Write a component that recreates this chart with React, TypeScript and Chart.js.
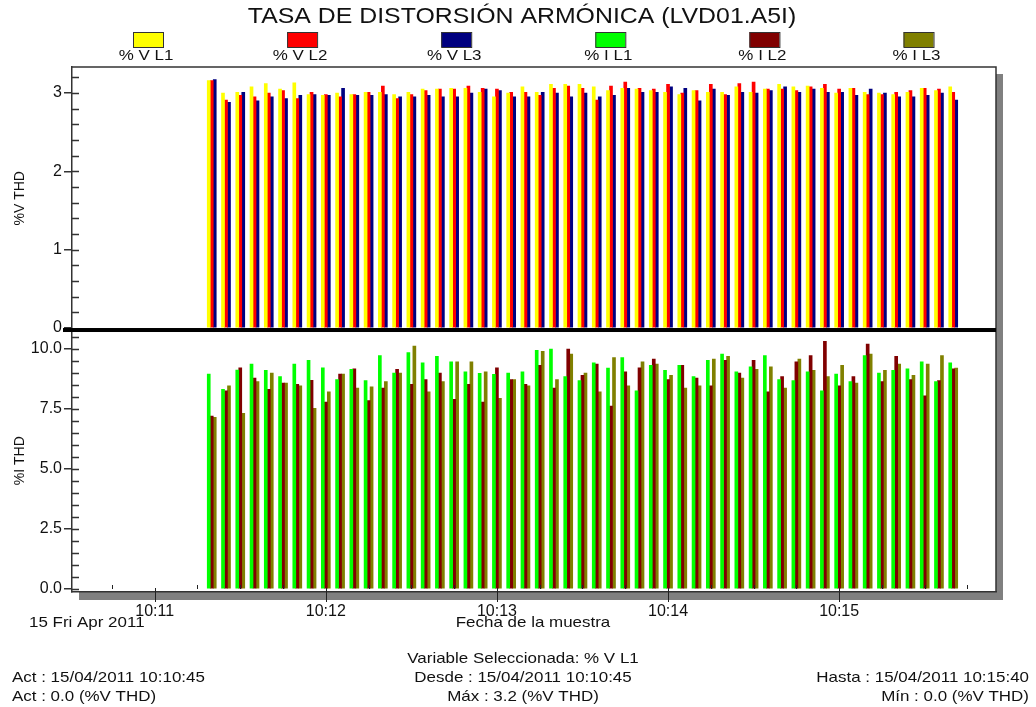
import React, { useEffect, useRef } from 'react';
import { Chart, registerables } from 'chart.js';

Chart.register(...registerables);

const TITLE = 'TASA DE DISTORSIÓN ARMÓNICA (LVD01.A5I)';
const X_AXIS_TITLE = 'Fecha de la muestra';
const DATE_LABEL = '15 Fri Apr 2011';
const V_AXIS_TITLE = '%V THD';
const I_AXIS_TITLE = '%I THD';
const X_RANGE = ['10:10:31', '10:15:55'];
const V_RANGE = [-0.019, 3.332];
const I_RANGE = [-0.125, 10.8125];
const FOOTER_CENTER = ['Variable Seleccionada: % V L1', 'Desde : 15/04/2011 10:10:45', 'Máx : 3.2 (%V THD)'];
const FOOTER_LEFT = ['Act : 15/04/2011 10:10:45', 'Act : 0.0 (%V THD)'];
const FOOTER_RIGHT = ['Hasta : 15/04/2011 10:15:40', 'Mín : 0.0 (%V THD)'];

const SAMPLE_TIMES = [
  '10:11:20', '10:11:25', '10:11:30', '10:11:35', '10:11:40', '10:11:45', '10:11:50', '10:11:55',
  '10:12:00', '10:12:05', '10:12:10', '10:12:15', '10:12:20', '10:12:25', '10:12:30', '10:12:35', '10:12:40', '10:12:45', '10:12:50', '10:12:55',
  '10:13:00', '10:13:05', '10:13:10', '10:13:15', '10:13:20', '10:13:25', '10:13:30', '10:13:35', '10:13:40', '10:13:45', '10:13:50', '10:13:55',
  '10:14:00', '10:14:05', '10:14:10', '10:14:15', '10:14:20', '10:14:25', '10:14:30', '10:14:35', '10:14:40', '10:14:45', '10:14:50', '10:14:55',
  '10:15:00', '10:15:05', '10:15:10', '10:15:15', '10:15:20', '10:15:25', '10:15:30', '10:15:35', '10:15:40',
];

const V_L1 = [3.16, 3.00, 3.01, 3.08, 3.12, 3.05, 3.13, 2.98, 2.97, 3.00, 2.98, 3.01, 3.01, 2.98, 3.01, 3.05, 3.05, 3.06, 3.06, 3.01, 2.95, 3.00, 3.08, 3.01, 3.11, 3.11, 3.11, 3.08, 3.03, 3.06, 3.05, 3.03, 3.01, 2.98, 3.03, 3.01, 3.01, 3.08, 3.01, 3.05, 3.11, 3.08, 3.09, 3.06, 3.00, 3.06, 3.01, 3.00, 2.98, 3.01, 3.06, 3.03, 3.08];
const V_L2 = [3.16, 2.91, 2.97, 2.95, 3.00, 3.03, 2.93, 3.01, 2.98, 2.95, 2.98, 3.01, 3.09, 2.93, 2.98, 3.03, 3.05, 3.05, 3.09, 3.06, 3.05, 3.01, 3.01, 2.97, 3.06, 3.09, 3.06, 2.91, 3.09, 3.14, 3.06, 3.05, 3.11, 3.00, 3.03, 3.11, 2.98, 3.12, 3.14, 3.05, 3.05, 3.03, 3.08, 3.11, 3.05, 3.06, 2.98, 2.98, 3.01, 3.03, 3.06, 3.05, 3.01];
const V_L3 = [3.17, 2.88, 3.01, 2.90, 2.95, 2.93, 2.97, 2.98, 2.97, 3.06, 2.97, 2.97, 2.98, 2.95, 2.95, 2.97, 2.95, 2.95, 3.00, 3.05, 3.03, 2.95, 2.95, 3.01, 3.00, 2.95, 3.00, 2.95, 2.97, 3.06, 3.01, 3.01, 3.08, 3.06, 2.90, 3.05, 2.97, 3.01, 3.00, 3.03, 3.08, 3.01, 3.05, 3.01, 3.01, 2.97, 3.05, 3.00, 2.95, 2.95, 2.97, 3.00, 2.91];
const I_L1 = [8.96, 8.32, 9.12, 9.37, 9.11, 8.85, 9.37, 9.53, 9.22, 8.73, 9.15, 8.68, 9.73, 9.00, 9.85, 9.42, 9.69, 9.47, 9.05, 8.99, 8.94, 9.00, 9.05, 9.94, 10.0, 8.85, 8.68, 9.42, 9.21, 9.64, 8.26, 9.32, 9.11, 9.32, 8.85, 9.53, 9.79, 9.05, 9.26, 9.73, 8.73, 8.68, 9.05, 8.26, 8.96, 8.64, 9.73, 9.00, 9.11, 9.17, 9.47, 8.64, 9.42];
const I_L2 = [7.21, 8.26, 9.22, 8.79, 8.32, 8.58, 8.53, 8.69, 7.79, 8.96, 9.17, 7.85, 8.37, 9.15, 8.53, 8.73, 9.00, 7.90, 8.53, 7.79, 9.22, 8.73, 8.53, 9.32, 8.37, 10.0, 8.90, 9.37, 7.62, 9.05, 9.22, 9.58, 8.73, 9.32, 8.79, 8.47, 9.53, 9.00, 9.53, 8.22, 8.85, 9.47, 9.73, 10.32, 8.47, 8.85, 10.21, 8.64, 9.69, 8.73, 8.05, 8.68, 9.17];
const I_L3 = [7.15, 8.47, 7.32, 8.64, 9.00, 8.58, 8.47, 7.53, 8.22, 8.96, 8.37, 8.42, 8.64, 9.00, 10.12, 8.22, 8.64, 9.47, 9.47, 9.05, 7.94, 8.73, 8.47, 9.90, 8.73, 9.79, 9.00, 8.22, 9.64, 8.47, 9.47, 9.37, 8.90, 8.37, 8.47, 9.58, 9.69, 8.79, 9.15, 9.26, 8.37, 9.58, 9.11, 8.85, 9.32, 8.58, 9.79, 9.11, 9.37, 8.90, 9.37, 9.73, 9.21];

const SERIES_LABELS = ['% V L1', '% V L2', '% V L3', '% I L1', '% I L2', '% I L3'];
const SERIES_COLORS = ['#FFFF00', '#FF0000', '#000080', '#00FF00', '#800000', '#808000'];
const V_TICK_LABELS = ['0', '1', '2', '3'];
const I_TICK_LABELS = ['0.0', '2.5', '5.0', '7.5', '10.0'];

const FONT = '"Liberation Sans", Arial, Helvetica, sans-serif';
const TEXT = '#111';
const SX = 1.13;

const toSec = (s: string) => {
  const [h, m, sec] = s.split(':').map(Number);
  return (h - 10) * 3600 + m * 60 + sec;
};
const fmtMin = (v: number) => {
  const h = 10 + Math.floor(v / 3600);
  const m = Math.floor((v % 3600) / 60);
  return `${h}:${String(m).padStart(2, '0')}`;
};

function txt(ctx: CanvasRenderingContext2D, s: string, x: number, y: number, size: number, align: CanvasTextAlign = 'center', rot = 0) {
  ctx.save();
  ctx.font = `${size}px ${FONT}`;
  ctx.fillStyle = TEXT;
  ctx.textBaseline = 'middle';
  ctx.textAlign = align;
  ctx.translate(x, y);
  if (rot) ctx.rotate(rot);
  if (!rot) ctx.scale(SX, 1);
  ctx.fillText(s, 0, 0);
  ctx.restore();
}

const decor = {
  id: 'decor',
  beforeDraw(chart: any) {
    const { ctx, chartArea: a } = chart;
    ctx.save();
    ctx.fillStyle = '#ffffff';
    ctx.fillRect(0, 0, chart.width, chart.height);
    ctx.fillStyle = '#808080';
    ctx.fillRect(a.right, a.top + 7, 7, a.bottom - a.top + 1);
    ctx.fillRect(a.left + 7, a.bottom, a.right - a.left, 8);
    ctx.restore();
  },
  afterDraw(chart: any) {
    const { ctx, chartArea: a, scales } = chart;
    const yV = scales.yV, yI = scales.yI, x = scales.x;
    ctx.save();
    // frame
    ctx.strokeStyle = '#333';
    ctx.lineWidth = 1.5;
    ctx.beginPath();
    ctx.moveTo(a.left, a.top);
    ctx.lineTo(a.right, a.top);
    ctx.lineTo(a.right, a.bottom);
    ctx.stroke();
    // separator
    ctx.fillStyle = '#000';
    const z = yV.getPixelForValue(0);
    ctx.fillRect(a.left - 9, z, a.right - a.left + 9, 4);
    // inside y ticks
    ctx.strokeStyle = '#333';
    ctx.lineWidth = 1.5;
    ctx.beginPath();
    for (let k = 1; k <= 16; k++) {
      const p = Math.round(yV.getPixelForValue(k * 0.2)) + 0.5;
      ctx.moveTo(a.left, p);
      ctx.lineTo(a.left + 7, p);
    }
    for (let k = 0; k <= 21; k++) {
      const p = Math.round(yI.getPixelForValue(k * 0.5)) + 0.5;
      ctx.moveTo(a.left, p);
      ctx.lineTo(a.left + 7, p);
    }
    ctx.stroke();
    // x ticks
    ctx.lineWidth = 1;
    ctx.strokeStyle = '#222';
    ctx.beginPath();
    for (let t = 645; t <= 945; t += 15) {
      const p = Math.round(x.getPixelForValue(t)) + 0.5;
      if (t % 60 === 0) {
        ctx.moveTo(p, a.bottom - 4);
        ctx.lineTo(p, a.bottom + 10);
      } else {
        ctx.moveTo(p, a.bottom - 7);
        ctx.lineTo(p, a.bottom - 3);
      }
    }
    ctx.stroke();
    ctx.restore();

    // title
    txt(ctx, TITLE, 522, 17, 22);
    // legend
    chart.data.datasets.forEach((ds: any, i: number) => {
      const cx = 148 + i * 154.1;
      ctx.save();
      ctx.fillStyle = ds.backgroundColor;
      ctx.fillRect(cx - 15, 32, 30, 15);
      ctx.strokeStyle = '#333';
      ctx.lineWidth = 1;
      ctx.strokeRect(cx - 15 + 0.5, 32.5, 30, 15);
      ctx.restore();
      txt(ctx, ds.label, cx - 2, 55.5, 15);
    });
    // axis titles
    txt(ctx, V_AXIS_TITLE, 20, (yV.top + yV.bottom) / 2, 14, 'center', -Math.PI / 2);
    txt(ctx, I_AXIS_TITLE, 20, (yI.top + yI.bottom) / 2, 14, 'center', -Math.PI / 2);
    txt(ctx, DATE_LABEL, 29, 623, 15, 'left');
    txt(ctx, X_AXIS_TITLE, 533, 623, 15);
    // footer
    FOOTER_CENTER.forEach((s, i) => txt(ctx, s, 523, 659 + i * 19, 15));
    FOOTER_LEFT.forEach((s, i) => txt(ctx, s, 12, 678 + i * 19, 15, 'left'));
    FOOTER_RIGHT.forEach((s, i) => txt(ctx, s, 1029, 678 + i * 19, 15, 'right'));
  },
};

export default function App() {
  const ref = useRef<HTMLCanvasElement>(null);
  useEffect(() => {
    const times = SAMPLE_TIMES.map(toSec);
    const series = [V_L1, V_L2, V_L3, I_L1, I_L2, I_L3];
    const datasets = series.map((vals, i) => ({
      label: SERIES_LABELS[i],
      data: vals.map((v, j) => ({ x: times[j], y: v })),
      backgroundColor: SERIES_COLORS[i],
      borderWidth: 0,
      barThickness: 3,
      stack: 's' + (i % 3),
      yAxisID: i < 3 ? 'yV' : 'yI',
    }));
    const tickFont = { family: FONT, size: 16 };
    const chart = new Chart(ref.current!, {
      type: 'bar',
      data: { datasets },
      plugins: [decor],
      options: {
        animation: false,
        responsive: false,
        devicePixelRatio: 1,
        layout: { padding: { top: 67, right: 40, left: 0, bottom: 0 } },
        plugins: { legend: { display: false }, title: { display: false }, tooltip: { enabled: false } },
        scales: {
          x: {
            type: 'linear',
            min: toSec(X_RANGE[0]),
            max: toSec(X_RANGE[1]),
            offset: false,
            grid: { display: false, drawTicks: false, offset: false },
            border: { display: true, color: '#333', width: 1.5 },
            ticks: {
              stepSize: 15,
              includeBounds: false,
              autoSkip: false,
              maxRotation: 0,
              padding: 10,
              color: TEXT,
              font: tickFont,
              callback: (v: any) => (Number(v) % 60 === 0 ? fmtMin(Number(v)) : ''),
            },
            afterFit: (s: any) => { s.height = 115; },
          },
          yI: {
            type: 'linear',
            position: 'left',
            stack: 'plots',
            stackWeight: 1,
            stacked: false,
            min: I_RANGE[0],
            max: I_RANGE[1],
            grid: { display: true, drawOnChartArea: false, drawTicks: true, tickLength: 8, color: '#333', lineWidth: 1.5 },
            border: { display: true, color: '#333', width: 1.5 },
            ticks: {
              stepSize: 2.5,
              includeBounds: false,
              padding: 2,
              color: TEXT,
              font: tickFont,
              callback: (v: any) => I_TICK_LABELS[Math.round(Number(v) / 2.5)] ?? '',
            },
            afterFit: (s: any) => { s.width = 72; },
          },
          yV: {
            type: 'linear',
            position: 'left',
            stack: 'plots',
            stackWeight: 1,
            stacked: false,
            min: V_RANGE[0],
            max: V_RANGE[1],
            grid: { display: true, drawOnChartArea: false, drawTicks: true, tickLength: 8, color: '#333', lineWidth: 1.5 },
            border: { display: true, color: '#333', width: 1.5 },
            ticks: {
              stepSize: 1,
              includeBounds: false,
              padding: 2,
              color: TEXT,
              font: tickFont,
              callback: (v: any) => V_TICK_LABELS[Math.round(Number(v))] ?? '',
            },
            afterFit: (s: any) => { s.width = 72; },
          },
        },
      } as any,
    });
    return () => chart.destroy();
  }, []);
  return (
    <div style={{ position: 'fixed', left: 0, top: 0, width: 1036, height: 707, background: '#fff' }}>
      <canvas ref={ref} width={1036} height={707} />
    </div>
  );
}
